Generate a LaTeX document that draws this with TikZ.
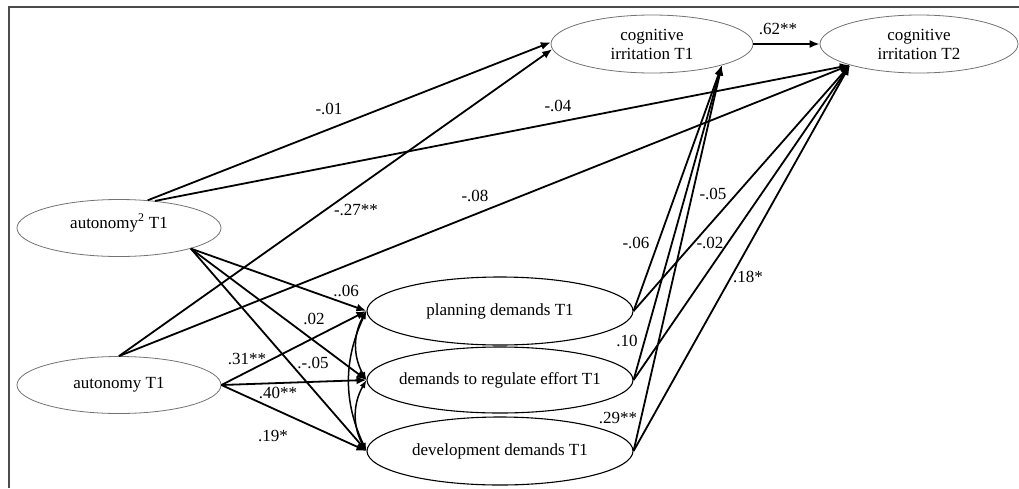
\documentclass[tikz,border=0pt]{standalone}
\usepackage{fontspec}
\setmainfont{Liberation Serif}
\usetikzlibrary{shapes.geometric,arrows.meta}
\begin{document}
\begin{tikzpicture}[x=1pt,y=-1pt,
  font=\fontsize{17}{19}\selectfont,
  ell/.style={ellipse, draw=black!55, line width=0.8pt, inner sep=0pt},
  dem/.style={ellipse, draw=black, line width=1.1pt, inner sep=0pt, minimum width=266pt},
  conn/.style={line width=1.8pt, -{Latex[length=10pt,width=8pt]}},
  cov/.style={line width=1.5pt, {Latex[length=8pt,width=6pt]}-{Latex[length=8pt,width=6pt]}},
  coef/.style={inner sep=0pt},
  txt/.style={align=center, inner sep=0pt}
]
\useasboundingbox (0,0) rectangle (1019,488);
\fill[white] (0,0) rectangle (1019,488);
% frame
\draw[line width=1.5pt, black!70] (9,488) -- (9,7) -- (1019,7);

% nodes
\node[ell, minimum width=204pt, minimum height=57pt,
  label={[txt, name=ta2, yshift=5pt]center:autonomy\textsuperscript{2} T1}] (a2) at (119,228) {};
\node[ell, minimum width=204pt, minimum height=57pt,
  label={[txt, name=ta1]center:autonomy T1}] (a1) at (119,385) {};
\node[dem, minimum height=68pt,
  label={[txt, name=tpd]center:planning demands T1}] (pd) at (500,311) {};
\node[dem, minimum height=66pt,
  label={[txt, name=tre]center:demands to regulate effort T1}] (re) at (500,380) {};
\node[dem, minimum height=68pt,
  label={[txt, name=tdd]center:development demands T1}] (dd) at (500,451) {};
\node[ell, minimum width=202pt, minimum height=58pt,
  label={[txt, name=tc1]center:cognitive\\irritation T1}] (c1) at (652,44) {};
\node[ell, minimum width=198pt, minimum height=58pt,
  label={[txt, name=tc2]center:cognitive\\irritation T2}] (c2) at (919,44) {};

% paths to cognitive irritation
\draw[conn] (a2.44) -- (c1.179);
\draw[conn] (a2.37) -- (c2.197);
\draw[conn] (a1.north) -- (c1.183);
\draw[conn] (a1.north) -- (c2.197);
\draw[conn] (c1.east) -- (c2.west);

% paths to demands
\draw[conn] (a2.-16) -- (pd.west);
\draw[conn] (a2.-16) -- (re.west);
\draw[conn] (a2.-16) -- (dd.west);
\draw[conn] (a1.east) -- (pd.west);
\draw[conn] (a1.east) -- (re.west);
\draw[conn] (a1.east) -- (dd.west);

% covariances
\draw[cov] (pd.west) to[bend right=30] (re.west);
\draw[cov] (re.west) to[bend right=30] (dd.west);
\draw[cov] (pd.west) to[bend right=25] (dd.west);

% demands to cognitive irritation
\draw[conn] (pd.east) -- (c1.-17);
\draw[conn] (pd.east) -- (c2.197);
\draw[conn] (re.east) -- (c1.-17);
\draw[conn] (re.east) -- (c2.197);
\draw[conn] (dd.east) -- (c1.-17);
\draw[conn] (dd.east) -- (c2.197);

% coefficients
\node[coef] (l1) at (329,109) {-.01};
\node[coef] (l2) at (558,106) {-.04};
\node[coef] (l3) at (356,210) {-.27**};
\node[coef] (l4) at (475,196) {-.08};
\node[coef] (l5) at (778,29) {.62**};
\node[coef] (l6) at (346,291) {..06};
\node[coef] (l7) at (314,319) {.02};
\node[coef] (l8) at (313,363) {.-.05};
\node[coef] (l9) at (247,359) {.31**};
\node[coef] (l10) at (278,393) {.40**};
\node[coef] (l11) at (273,436) {.19*};
\node[coef] (l12) at (713,194) {-.05};
\node[coef] (l13) at (636,243) {-.06};
\node[coef] (l14) at (710,243) {-.02};
\node[coef] (l15) at (748,277) {.18*};
\node[coef] (l16) at (627,341) {.10};
\node[coef] (l17) at (618,418) {.29**};
\end{tikzpicture}
\end{document}
